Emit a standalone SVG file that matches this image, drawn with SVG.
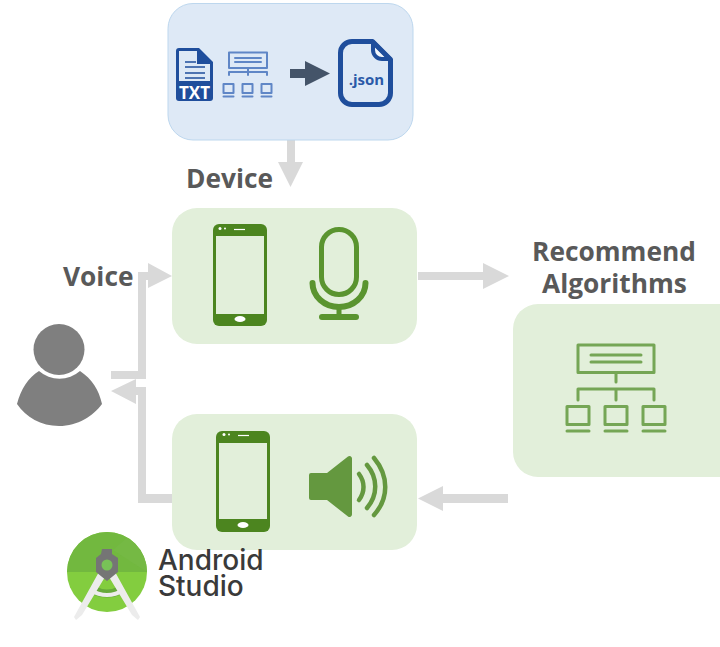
<svg xmlns="http://www.w3.org/2000/svg" width="720" height="647" viewBox="0 0 720 647">
<style>
.box{fill:#e2efda}
.lbl{font-family:"Open Sans","Liberation Sans",sans-serif;font-weight:700;font-size:26.300px;fill:#595959}
.conn{fill:#d9d9d9}
.phone{fill:#4c851f}
.screen{fill:#e2efda}
.ln{fill:none;stroke-linecap:round;stroke-linejoin:round}
.as{font-family:"Inter","Liberation Sans",sans-serif;font-size:28px;fill:#3a3a3a}
</style>
<rect width="720" height="647" fill="#fff"/>
<g id="connectors" class="conn">
<path id="c-source-device" d="M287 140h8v22h8l-12.500 25l-12.500-25h9z"/>
<path id="c-user-device" d="M111 371h27v-99h10v-9l24 13l-24 12v-8h-2v99h-35z"/>
<path id="c-device-user" d="M172 494h-26v-107h-10v-8l-25 12l25 13v-9h2v108h34z"/>
<path id="c-device-algo" d="M418 272h65v-9l26 13l-26 13v-9h-65z"/>
<path id="c-algo-speaker" d="M508 494h-65v-8l-25 12.500l25 12.500v-8h65z"/>
</g>
<g id="source-node">
<rect x="168" y="3.500" width="245" height="136.500" rx="25" fill="#dee9f6" stroke="#bdd7ee" stroke-width="1"/>
<path d="M176 51a3 3 0 0 1 3-3h20l14 14v36a3 3 0 0 1-3 3h-31a3 3 0 0 1-3-3z" fill="#1f4e9c"/>
<path d="M179 51h18v13h13v17h-31z" fill="#dee9f6"/>
<path d="M199 49.500l12 12h-12z" fill="#1f4e9c"/>
<path d="M185 62h11M185 67h20M185 73h20M185 78h20" stroke="#1f4e9c" stroke-width="1.500" fill="none"/>
<text x="194.500" y="98.500" text-anchor="middle" font-family="Open Sans,Liberation Sans,sans-serif" font-weight="700" font-size="17" fill="#fff">TXT</text>
<g class="ln" stroke="#5f86c6" stroke-width="2">
<rect x="229" y="52.500" width="38" height="15.500"/>
<path d="M235 58h26M235 62h26M248 68v4M229 75v-3h38v3M248 72v3"/>
<rect x="223.500" y="84" width="10" height="9"/><rect x="242.500" y="84" width="10" height="9"/><rect x="261.500" y="84" width="10" height="9"/>
<path d="M223.500 96.500h10M242.500 96.500h10M261.500 96.500h10"/>
</g>
<path d="M290 69h15v-8l25 12.500l-25 12.500v-8h-15z" fill="#445469"/>
<path d="M373 42v8a9 9 0 0 0 9 9h8z" fill="#f2f6fb" stroke="#1f4e9c" stroke-width="4" stroke-linejoin="round"/>
<path d="M352 41.500h20.500l18 18v33.500a11.500 11.500 0 0 1-11.500 11.500h-27a11.500 11.500 0 0 1-11.500-11.500v-40a11.500 11.500 0 0 1 11.500-11.500z" fill="none" stroke="#1f4e9c" stroke-width="5" stroke-linejoin="round"/>
<text x="366.500" y="85" text-anchor="middle" font-family="Open Sans,Liberation Sans,sans-serif" font-weight="700" font-size="15" fill="#2a5aa8">.json</text>
</g>
<text id="label-device" class="lbl" x="186" y="188">Device</text>
<g id="device-node">
<rect class="box" x="172" y="208" width="245" height="136" rx="25"/>
<rect class="phone" x="213" y="224" width="54" height="102" rx="6"/>
<rect class="screen" x="216" y="236" width="48" height="78"/>
<circle cx="220" cy="228.500" r="1.500" fill="#fff"/><circle cx="225" cy="228.500" r="1" fill="#fff"/>
<path d="M234 229.500h11" stroke="#fff" stroke-width="1.200"/>
<ellipse cx="240" cy="319" rx="5.500" ry="3" fill="#fff"/>
<g class="ln" stroke="#5a942f">
<rect x="321.500" y="229.500" width="35" height="65" rx="17.500" stroke-width="5"/>
<path d="M312.500 283a26.500 24 0 0 0 53 0" stroke-width="6"/>
<path d="M339 307v10" stroke-width="5"/>
<path d="M322 317h34" stroke-width="6"/>
</g>
</g>
<text id="label-voice" class="lbl" x="63" y="286">Voice</text>
<g id="user-node" fill="#7f7f7f">
<circle cx="59" cy="349.500" r="25.500"/>
<path d="M39 371a31 31 0 0 0 41 0c12 8 19 19 22 33c-9 12-24 22-43 22c-18 0-33-9-42-22c4-15 11-26 22-33z"/>
</g>
<g id="speaker-node">
<rect class="box" x="172" y="414" width="245" height="136" rx="25"/>
<rect class="phone" x="216" y="431" width="54" height="101" rx="6"/>
<rect class="screen" x="219" y="443" width="48" height="76"/>
<circle cx="224" cy="434.500" r="1.500" fill="#fff"/><circle cx="229" cy="434.500" r="1" fill="#fff"/>
<path d="M238 435.500h11" stroke="#fff" stroke-width="1.200"/>
<ellipse cx="243" cy="525" rx="5.500" ry="3" fill="#fff"/>
<path d="M311 473h16l21-16.500a2.500 2.500 0 0 1 4 2v56a2.500 2.500 0 0 1-4 2l-21-16.500h-16a2 2 0 0 1-2-2v-23a2 2 0 0 1 2-2z" fill="#64983f"/>
<g class="ln" stroke="#64983f" stroke-width="4.500">
<path d="M359 474c6 8 6 18 0 26"/>
<path d="M367 465c11 13 11 30 0 43"/>
<path d="M374 458c15 18 15 40 0 57"/>
</g>
</g>
<g id="algorithm-node">
<rect class="box" x="513" y="304" width="232" height="173" rx="25"/>
<g class="ln" stroke="#75a655" stroke-width="3">
<rect x="578" y="345" width="76" height="27.500"/>
<path d="M591 355h50M591 362h50M616 373v9M578 400v-11h76v11M616 389v11"/>
<rect x="567" y="406.500" width="22" height="18"/><rect x="605" y="406.500" width="22" height="18"/><rect x="643" y="406.500" width="22" height="18"/>
<path d="M567 431h22M605 431h22M643 431h22"/>
</g>
</g>
<text id="label-recommend" class="lbl" text-anchor="middle" x="614" y="261">Recommend</text>
<text id="label-algorithms" class="lbl" text-anchor="middle" x="614.500" y="293">Algorithms</text>
<g id="android-studio-node">
<circle cx="107" cy="572" r="40" fill="#83cd3f"/>
<path d="M67 572a40 40 0 0 1 80 0z" fill="#72b83f"/>
<path d="M113 550l34 22a40 40 0 0 0-20-34z" fill="#78b94a" opacity="0.5"/>
<path d="M91 594a40 40 0 0 0 32 0l-4-8a24 24 0 0 1-24 0z" fill="#5a9a3a" opacity="0.7"/>
<path d="M100 570l-26 47l2 3l6-5l26-43zM114 570l26 47l-2 3l-6-5l-26-43z" fill="#ececec"/>
<path d="M90 590q17 10 34 0" fill="none" stroke="#ececec" stroke-width="4"/>
<path d="M102 549h10v5l6 4v14l-11 9l-11-9v-14l5-4z" fill="#757575"/>
<circle cx="107" cy="565" r="5.500" fill="#78c257"/>
<text class="as" x="158" y="570" font-weight="500">Android</text>
<text class="as" x="158" y="596" font-weight="500">Studio</text>
</g>
</svg>
